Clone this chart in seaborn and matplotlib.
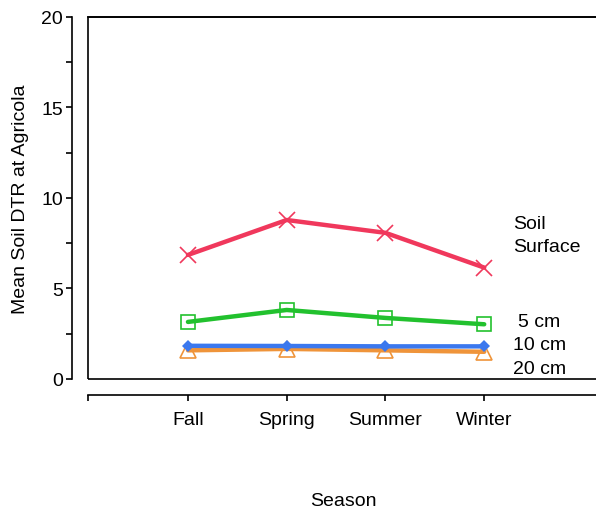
import numpy as np
import pandas as pd
import matplotlib
matplotlib.use('Agg')
import matplotlib.pyplot as plt
from matplotlib.patches import Rectangle
import seaborn as sns

seasons = ['Fall', 'Spring', 'Summer', 'Winter']
surface = [6.85, 8.78, 8.07, 6.15]
cm5 = [3.15, 3.81, 3.37, 3.02]
cm10 = [1.83, 1.82, 1.80, 1.80]
cm20 = [1.58, 1.66, 1.58, 1.50]

sns.set_style('white')
plt.rcParams['font.family'] = ['Liberation Sans', 'DejaVu Sans']
plt.rcParams['text.color'] = 'black'
plt.rcParams['axes.labelcolor'] = 'black'
plt.rcParams['xtick.color'] = 'black'
plt.rcParams['ytick.color'] = 'black'

fs = 14
fig = plt.figure(figsize=(5.96, 5.10), dpi=100)
ax = fig.add_axes([0.148, 0.255, 0.855, 0.710])

x = np.arange(len(seasons))
# draw bottom series first so the upper ones sit on top
series = [
    (cm20, '#ef943a', dict(marker='^', markersize=12, markerfacecolor='none', markeredgewidth=1.2)),
    (cm10, '#3b78ee', dict(marker='D', markersize=6, markeredgewidth=0)),
    (cm5, '#22c12e', dict(marker='s', markersize=10, markerfacecolor='none', markeredgewidth=1.2)),
    (surface, '#f0385c', dict(marker='x', markersize=11, markeredgewidth=1.2)),
]
for vals, col, kw in series:
    df = pd.DataFrame({'x': x, 'y': vals})
    sns.lineplot(data=df, x='x', y='y', ax=ax, color=col, linewidth=3.2,
                 markeredgecolor=col, **kw)

ax.set_xlim(-1.01, 4.15)
ax.set_ylim(0, 20)

# labels at right end of the lines
ax.text(3.29, 8.56, 'Soil', fontsize=fs, va='center', ha='left')
ax.text(3.29, 7.30, 'Surface', fontsize=fs, va='center', ha='left')
ax.text(3.34, 3.15, '5 cm', fontsize=fs, va='center', ha='left')
ax.text(3.29, 1.88, '10 cm', fontsize=fs, va='center', ha='left')
ax.text(3.29, 0.55, '20 cm', fontsize=fs, va='center', ha='left')

# offset axes with a plain box around the plotting area
for s in ['left', 'bottom']:
    ax.spines[s].set_position(('outward', 11.5))
for s in ax.spines.values():
    s.set_color('black')
    s.set_linewidth(1.2)
ax.add_patch(Rectangle((0, 0), 1, 1, transform=ax.transAxes, fill=False,
                       edgecolor='black', linewidth=1.2, clip_on=False, zorder=5))

ax.set_yticks([0, 5, 10, 15, 20])
ax.set_yticks([2.5, 7.5, 12.5, 17.5], minor=True)
ax.set_xticks([-1.01, 0, 1, 2, 3, 4.15])
ax.set_xticklabels([''] + seasons + [''])
ax.tick_params(axis='both', which='both', direction='out', length=4.5, width=1.2,
               labelsize=fs, color='black', left=True, bottom=True)
ax.tick_params(axis='x', pad=7)
ax.tick_params(axis='y', pad=2)

ax.set_ylabel('Mean Soil DTR at Agricola', fontsize=fs)
ax.yaxis.set_label_coords(-0.116, 0.5)
ax.set_xlabel('Season', fontsize=fs)
ax.xaxis.set_label_coords(0.5, -0.313)

fig.savefig('out.png', dpi=100)
